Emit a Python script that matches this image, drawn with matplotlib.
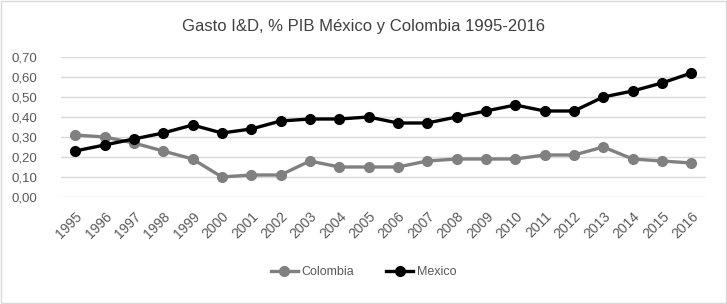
import matplotlib
matplotlib.use("Agg")
import matplotlib.pyplot as plt
from matplotlib.ticker import FuncFormatter
from matplotlib.patches import Rectangle

# --- Datos ---
years = [str(y) for y in range(1995, 2017)]
colombia = [0.31, 0.30, 0.27, 0.23, 0.19, 0.10, 0.11, 0.11, 0.18, 0.15, 0.15,
            0.15, 0.18, 0.19, 0.19, 0.19, 0.21, 0.21, 0.25, 0.19, 0.18, 0.17]
mexico = [0.23, 0.26, 0.29, 0.32, 0.36, 0.32, 0.34, 0.38, 0.39, 0.39, 0.40,
          0.37, 0.37, 0.40, 0.43, 0.46, 0.43, 0.43, 0.50, 0.53, 0.57, 0.62]
y_ticks = [0.0, 0.1, 0.2, 0.3, 0.4, 0.5, 0.6, 0.7]

plt.rcParams['font.family'] = ['Liberation Sans Narrow', 'Liberation Sans', 'DejaVu Sans']

fig = plt.figure(figsize=(7.27, 3.04), dpi=100)
ax = fig.add_axes([60.5 / 727, 1 - 197 / 304, (706 - 60.5) / 727, 140 / 304])

x = range(len(years))
ax.plot(x, colombia, color='#808080', lw=2.4, marker='o', ms=7, label='Colombia')
ax.plot(x, mexico, color='black', lw=2.4, marker='o', ms=7, label='Mexico')

ax.set_xlim(-0.5, len(years) - 0.5)
ax.set_ylim(0, 0.7)
ax.set_yticks(y_ticks)
ax.yaxis.set_major_formatter(FuncFormatter(lambda v, p: f"{v:.2f}".replace('.', ',')))
ax.set_xticks(list(x))
ax.set_xticklabels(years, rotation=45, ha='right', rotation_mode='anchor')
ax.tick_params(axis='both', length=0, colors='#595959')
ax.tick_params(axis='x', pad=9, labelsize=10)
ax.tick_params(axis='y', pad=17, labelsize=9.5)
ax.grid(axis='y', color='#d9d9d9', lw=1)
ax.set_axisbelow(True)
for s in ax.spines.values():
    s.set_visible(False)

fig.text(0.5, 1 - 27 / 304, 'Gasto I&D, % PIB México y Colombia 1995-2016',
         ha='center', va='center', fontsize=12, color='#404040')

leg = fig.legend(loc='center', bbox_to_anchor=(0.5, 1 - 272 / 304), ncol=2,
                 frameon=False, fontsize=9, handlelength=2.2, columnspacing=2.5,
                 handletextpad=0.3)
for t in leg.get_texts():
    t.set_color('#595959')

fig.patches.append(Rectangle((0.002, 0.003), 0.996, 0.994, transform=fig.transFigure,
                             fill=False, edgecolor='#d9d9d9', lw=1))

fig.savefig('out.png', dpi=100)
